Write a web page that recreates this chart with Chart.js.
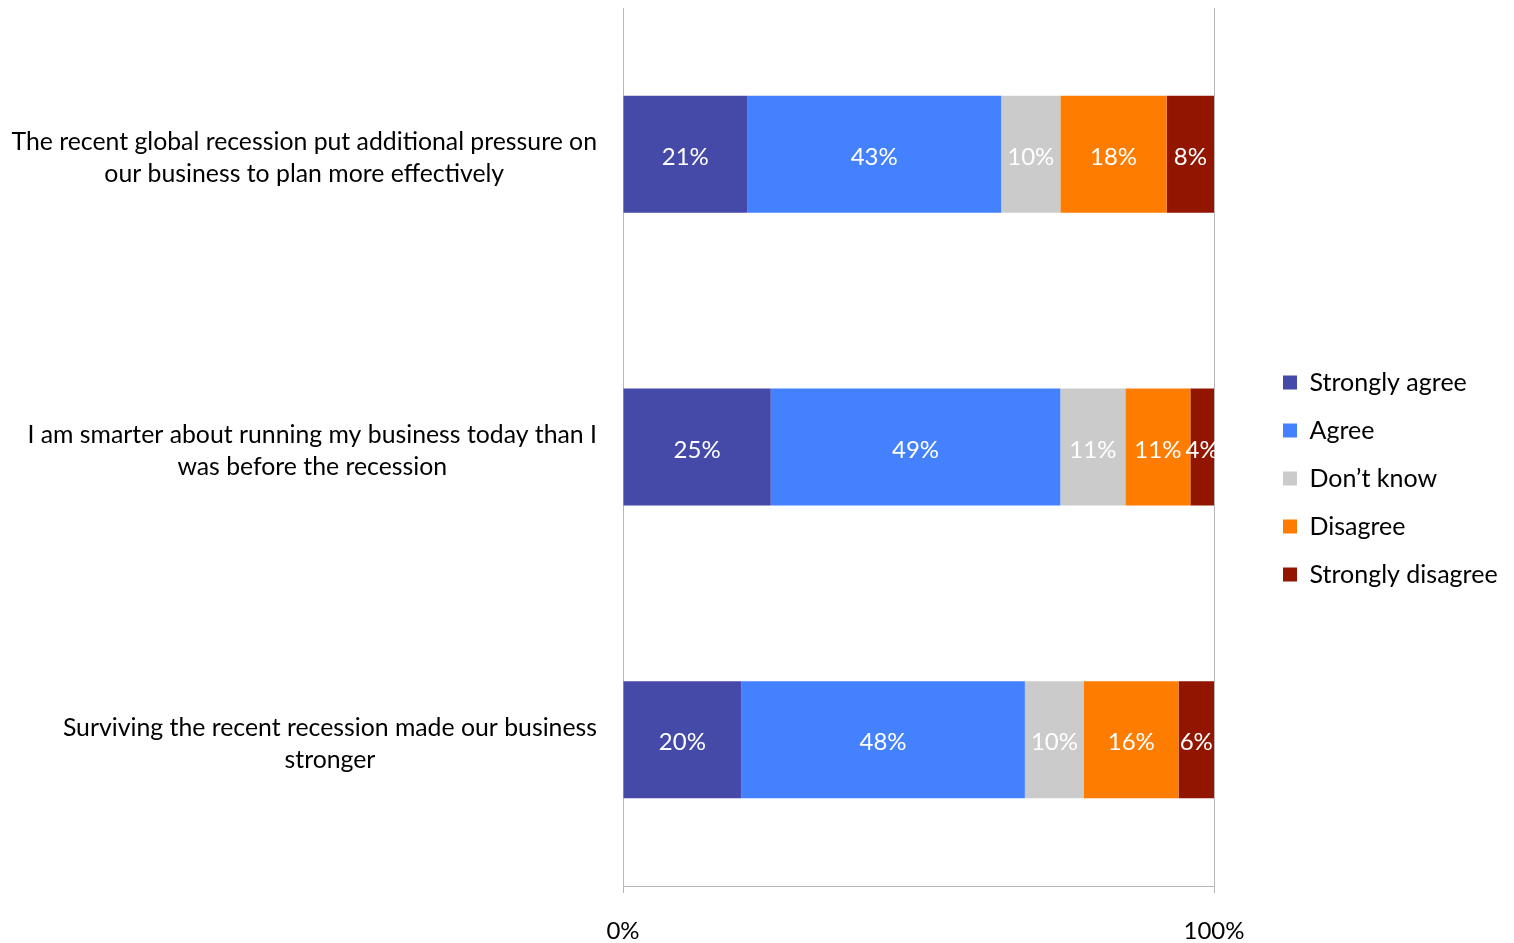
<!DOCTYPE html>
<html>
<head>
<meta charset="utf-8">
<script src="https://cdn.jsdelivr.net/npm/chart.js@4.4.1/dist/chart.umd.min.js"></script>
<style>
  html, body { margin: 0; padding: 0; background: #fff; }
  #wrap { width: 1514px; height: 943px; position: relative; }
</style>
</head>
<body>
<div id="wrap"><canvas id="surveyChart"></canvas></div>
<script>
// Survey statements (each one split into its display lines)
const statements = [
  ['The recent global recession put additional pressure on', 'our business to plan more effectively'],
  ['I am smarter about running my business today than I', 'was before the recession'],
  ['Surviving the recent recession made our business', 'stronger']
];
const responseNames = ['Strongly agree', 'Agree', 'Don\u2019t know', 'Disagree', 'Strongly disagree'];

// Share of answers per statement, in %
const stronglyAgree    = [21, 25, 20];
const agree            = [43, 49, 48];
const dontKnow         = [10, 11, 10];
const disagree         = [18, 11, 16];
const stronglyDisagree = [8, 4, 6];

const xTickValues = [0, 100];

const responseColors = ['#4549A8', '#4381FE', '#CBCBCB', '#FE7D00', '#921500'];
const FONT = 'Lato';
const TEXT_SIZE = 24.8;
const NUM_SIZE = 24;

const seriesData = [stronglyAgree, agree, dontKnow, disagree, stronglyDisagree];

// white percentage inside every segment, clipped at the plot edge
const valueLabels = {
  id: 'valueLabels',
  afterDatasetsDraw(chart) {
    const { ctx, chartArea } = chart;
    ctx.save();
    ctx.beginPath();
    ctx.rect(chartArea.left, chartArea.top, chartArea.width + 1, chartArea.height);
    ctx.clip();
    ctx.font = `${NUM_SIZE}px ${FONT}`;
    ctx.fillStyle = '#fff';
    ctx.textAlign = 'center';
    ctx.textBaseline = 'middle';
    chart.data.datasets.forEach((ds, di) => {
      chart.getDatasetMeta(di).data.forEach((bar, i) => {
        const { x, base, y } = bar.getProps(['x', 'base', 'y'], true);
        ctx.fillText(ds.data[i] + '%', (x + base) / 2, y + 3);
      });
    });
    ctx.restore();
  }
};

// statement text on the left: block right-aligned, lines centred within it
const statementLabels = {
  id: 'statementLabels',
  afterDraw(chart) {
    const { ctx } = chart;
    const yScale = chart.scales.y;
    const rightEdge = chart.chartArea.left - 26;
    const lineH = 32;
    ctx.save();
    ctx.font = `${TEXT_SIZE}px ${FONT}`;
    ctx.fillStyle = '#000';
    ctx.textAlign = 'center';
    ctx.textBaseline = 'middle';
    chart.data.labels.forEach((lines, i) => {
      const w = Math.max(...lines.map(l => ctx.measureText(l).width));
      const cx = rightEdge - w / 2;
      const cy = yScale.getPixelForValue(i) + 4;
      const top = cy - (lines.length - 1) * lineH / 2;
      lines.forEach((l, k) => ctx.fillText(l, cx, top + k * lineH));
    });
    ctx.restore();
  }
};

// fixed legend column on the right
const legendPlace = {
  id: 'legendPlace',
  beforeInit(chart) {
    const fit = chart.legend.fit;
    chart.legend.fit = function () {
      fit.bind(chart.legend)();
      this.width = 300;
    };
  },
  afterLayout(chart) {
    const lg = chart.legend;
    lg.left += 46;
    lg.top += 3;
    lg.bottom += 3;
  }
};

new Chart(document.getElementById('surveyChart'), {
  type: 'bar',
  data: {
    labels: statements,
    datasets: responseNames.map((name, i) => ({
      label: name,
      data: seriesData[i],
      backgroundColor: responseColors[i],
      borderWidth: 0,
      barPercentage: 0.4,
      categoryPercentage: 1
    }))
  },
  options: {
    indexAxis: 'y',
    responsive: true,
    maintainAspectRatio: false,
    animation: false,
    layout: { padding: { left: 623, top: 8, right: 0, bottom: 0 } },
    plugins: {
      legend: {
        position: 'right',
        labels: {
          boxWidth: 14,
          boxHeight: 14,
          padding: 23,
          color: '#000',
          font: { family: FONT, size: 25 }
        }
      },
      tooltip: { enabled: false }
    },
    scales: {
      x: {
        stacked: true,
        min: 0,
        max: 100,
        afterBuildTicks: scale => { scale.ticks = xTickValues.map(v => ({ value: v })); },
        afterFit: scale => { scale.height = 57; },
        ticks: {
          padding: 24,
          color: '#000',
          font: { family: FONT, size: NUM_SIZE },
          callback: v => v + '%'
        },
        grid: { color: '#B8B8B8', tickLength: 7, lineWidth: 1 },
        border: { display: true, color: '#B8B8B8' }
      },
      y: {
        stacked: true,
        display: false
      }
    }
  },
  plugins: [valueLabels, statementLabels, legendPlace]
});
</script>
</body>
</html>
